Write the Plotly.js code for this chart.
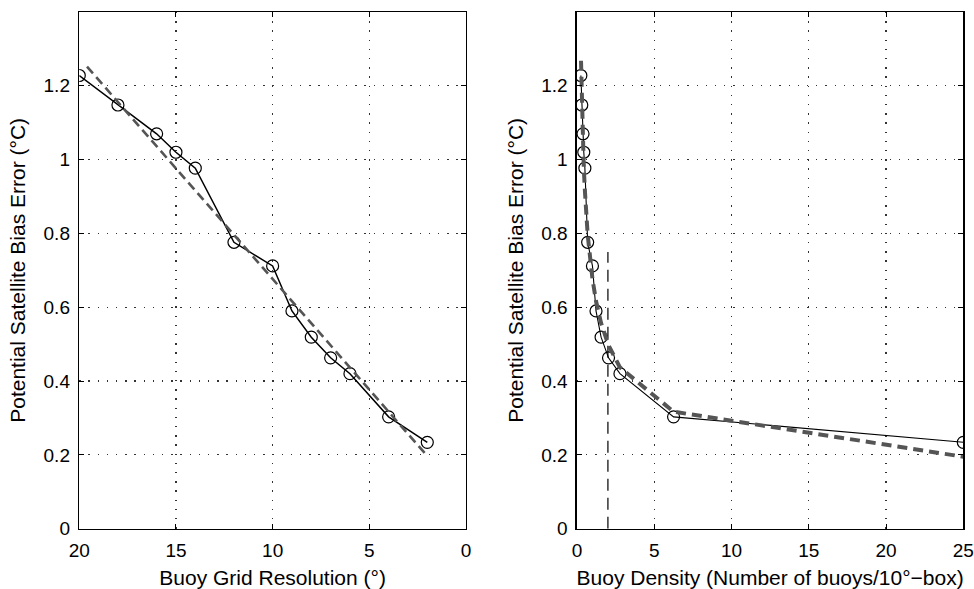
<!DOCTYPE html>
<html>
<head>
<meta charset="utf-8">
<script src="https://cdn.plot.ly/plotly-3.0.1.min.js"></script>
<style>html,body{margin:0;padding:0;background:#fff;}#chart{width:974px;height:589px;}</style>
</head>
<body>
<div id="chart"></div>
<script>
// Buoy grid resolution (degrees) and potential satellite bias error (°C)
var resolution = [20, 18, 16, 15, 14, 12, 10, 9, 8, 7, 6, 4, 2];
var biasError  = [1.228, 1.148, 1.070, 1.020, 0.977, 0.776, 0.712, 0.590, 0.519, 0.463, 0.420, 0.303, 0.234];
// Buoy density (number of buoys per 10°-box) for the same cases
var density    = [0.25, 0.31, 0.39, 0.44, 0.51, 0.69, 1.00, 1.23, 1.56, 2.04, 2.78, 6.25, 25];
// Linear fit (grey dashed, left panel)
var fitResX = [19.6, 2];
var fitResY = [1.252, 0.197];
// Fit re-expressed against density (grey dashed, right panel)
var fitDenX = [0.26, 0.31, 0.39, 0.44, 0.51, 0.69, 1.00, 1.23, 1.56, 2.04, 2.78, 6.25, 25];
var fitDenY = [1.268, 1.157, 1.037, 0.977, 0.917, 0.797, 0.677, 0.617, 0.557, 0.497, 0.437, 0.317, 0.195];
// Vertical reference line at density 2
var refX = [2, 2];
var refY = [0, 0.75];

var yTicks = [0, 0.2, 0.4, 0.6, 0.8, 1, 1.2];
var yTickText = ['0', '0.2', '0.4', '0.6', '0.8', '1', '1.2'];
var xLeftTicks = [20, 15, 10, 5, 0];
var xRightTicks = [0, 5, 10, 15, 20, 25];

var FONT = 'Liberation Sans, Arial, Helvetica, sans-serif';
var TICK = 19, TITLE = 21;

var traces = [
  {x: resolution, y: biasError, xaxis: 'x', yaxis: 'y', type: 'scatter', mode: 'lines+markers',
   line: {color: '#000', width: 1.5},
   marker: {symbol: 'circle-open', size: 12, color: '#000', line: {width: 1.2, color: '#000'}}},
  {x: fitResX, y: fitResY, xaxis: 'x', yaxis: 'y', type: 'scatter', mode: 'lines',
   line: {color: '#555', width: 2.6, dash: '9px,5px'}},
  {x: refX, y: refY, xaxis: 'x2', yaxis: 'y2', type: 'scatter', mode: 'lines',
   line: {color: '#333', width: 1.5, dash: '12px,7px'}},
  {x: density, y: biasError, xaxis: 'x2', yaxis: 'y2', type: 'scatter', mode: 'lines+markers',
   line: {color: '#000', width: 1.1},
   marker: {symbol: 'circle-open', size: 12, color: '#000', line: {width: 1.2, color: '#000'}}},
  {x: fitDenX, y: fitDenY, xaxis: 'x2', yaxis: 'y2', type: 'scatter', mode: 'lines',
   line: {color: '#555', width: 4, dash: '10px,6px'}}
];

function yax(anchor) {
  return {
    anchor: anchor, domain: [0.1024, 0.9796], range: [0, 1.4],
    tickvals: yTicks, ticktext: yTickText,
    showline: true, linecolor: '#000', linewidth: 1.5, mirror: 'ticks',
    ticks: 'inside', ticklen: 5, tickcolor: '#000', tickwidth: 1,
    showgrid: true, gridcolor: '#333', gridwidth: 1.2, griddash: '1.3px,7.9px',
    zeroline: false, ticklabelstandoff: 4,
    tickfont: {family: FONT, size: TICK, color: '#000'},
    title: {text: 'Potential Satellite Bias Error (°C)', font: {family: FONT, size: TITLE, color: '#000'}, standoff: 12}
  };
}
function xax(anchor, domain, range, ticks, title) {
  return {
    anchor: anchor, domain: domain, range: range,
    tickvals: ticks, ticktext: ticks.map(String),
    showline: true, linecolor: '#000', linewidth: 1.5, mirror: 'ticks',
    ticks: 'inside', ticklen: 5, tickcolor: '#000', tickwidth: 1,
    showgrid: true, gridcolor: '#333', gridwidth: 1.2, griddash: '1.3px,7.9px',
    zeroline: false, ticklabelstandoff: 4,
    tickfont: {family: FONT, size: TICK, color: '#000'},
    title: {text: title, font: {family: FONT, size: TITLE, color: '#000'}, standoff: 14}
  };
}

var layout = {
  width: 974, height: 589,
  margin: {l: 0, r: 0, t: 0, b: 0},
  paper_bgcolor: '#fff', plot_bgcolor: '#fff',
  showlegend: false,
  xaxis: xax('y', [0.0814, 0.4784], [20, 0], xLeftTicks, 'Buoy Grid Resolution (°)'),
  yaxis: yax('x'),
  xaxis2: xax('y2', [0.5924, 0.989], [0, 25], xRightTicks, 'Buoy Density (Number of buoys/10°\u2212box)'),
  yaxis2: yax('x2')
};

Plotly.newPlot('chart', traces, layout, {displayModeBar: false, staticPlot: true});
</script>
</body>
</html>
